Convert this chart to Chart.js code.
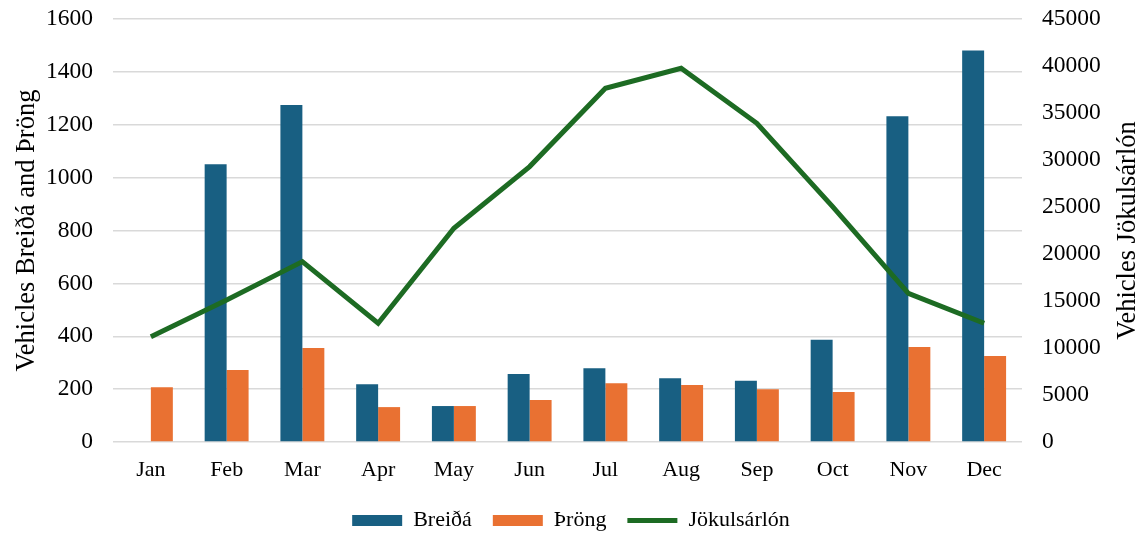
<!DOCTYPE html>
<html>
<head>
<meta charset="utf-8">
<script src="https://cdn.jsdelivr.net/npm/chart.js@4"></script>
<style>
  html, body { margin: 0; padding: 0; background: #fff; }
  #wrap { width: 1142px; height: 535px; position: relative; }
</style>
</head>
<body>
<div id="wrap"><canvas id="c"></canvas></div>
<script>
// Monthly vehicle counts
const months = ['Jan', 'Feb', 'Mar', 'Apr', 'May', 'Jun', 'Jul', 'Aug', 'Sep', 'Oct', 'Nov', 'Dec'];
const breida = [0, 1051, 1275, 218, 136, 257, 279, 241, 232, 387, 1232, 1481];
const throng = [207, 272, 356, 132, 136, 159, 222, 216, 200, 189, 359, 325];
const jokulsarlon = [11200, 15100, 19190, 12630, 22740, 29300, 37630, 39760, 33900, 25040, 15820, 12630];

const leftTicks = [0, 200, 400, 600, 800, 1000, 1200, 1400, 1600];
const rightTicks = [0, 5000, 10000, 15000, 20000, 25000, 30000, 35000, 40000, 45000];

const FONT = '"Liberation Serif", "Times New Roman", serif';
const TEXT = '#000000';
const RIGHT_TITLE = 'Vehicles Jökulsárlón';

// Right-hand axis title, read bottom-to-top like the left one
const rightTitle = {
  id: 'rightTitle',
  afterDraw(chart) {
    const { ctx, chartArea } = chart;
    ctx.save();
    ctx.translate(chart.width - 14, (chartArea.top + chartArea.bottom) / 2);
    ctx.rotate(-Math.PI / 2);
    ctx.font = '26.5px ' + FONT;
    ctx.fillStyle = TEXT;
    ctx.textAlign = 'center';
    ctx.textBaseline = 'middle';
    ctx.fillText(RIGHT_TITLE, 0, 0);
    ctx.restore();
  }
};

const noPad = s => { s.paddingTop = 0; s.paddingBottom = 0; };

new Chart(document.getElementById('c'), {
  data: {
    labels: months,
    datasets: [
      {
        type: 'bar', label: 'Breiðá', data: breida, yAxisID: 'y',
        backgroundColor: '#185F82', borderWidth: 0, order: 1,
        categoryPercentage: 0.58, barPercentage: 1.0
      },
      {
        type: 'bar', label: 'Þröng', data: throng, yAxisID: 'y',
        backgroundColor: '#E97132', borderWidth: 0, order: 1,
        categoryPercentage: 0.58, barPercentage: 1.0
      },
      {
        type: 'line', label: 'Jökulsárlón', data: jokulsarlon, yAxisID: 'y1',
        borderColor: '#1D6B23', backgroundColor: '#1D6B23', borderWidth: 5,
        pointRadius: 0, tension: 0, order: 0, borderJoinStyle: 'miter'
      }
    ]
  },
  plugins: [rightTitle],
  options: {
    responsive: true,
    maintainAspectRatio: false,
    animation: false,
    layout: { padding: { left: 0, right: 0, top: 19, bottom: -6.5 } },
    plugins: {
      tooltip: { enabled: false },
      legend: {
        position: 'bottom',
        labels: {
          font: { family: FONT, size: 22 },
          color: TEXT,
          usePointStyle: true,
          pointStyleWidth: 50,
          boxHeight: 11,
          padding: 21,
          sort: (a, b) => a.datasetIndex - b.datasetIndex,
          generateLabels(chart) {
            const items = Chart.defaults.plugins.legend.labels.generateLabels(chart);
            items.forEach(it => {
              const ds = chart.data.datasets[it.datasetIndex];
              const isLine = ds.type === 'line';
              it.pointStyle = isLine ? 'line' : 'rect';
              it.lineWidth = isLine ? 5 : 0;
              it.fillStyle = isLine ? ds.borderColor : ds.backgroundColor;
              it.strokeStyle = isLine ? ds.borderColor : ds.backgroundColor;
            });
            return items;
          }
        }
      }
    },
    scales: {
      x: {
        grid: { display: false, drawTicks: false },
        border: { display: false },
        ticks: { font: { family: FONT, size: 22 }, color: TEXT, padding: 15, maxRotation: 0 },
        afterFit(s) { s.height = 46.5; }
      },
      y: {
        position: 'left',
        min: 0, max: 1600,
        afterBuildTicks(s) { s.ticks = leftTicks.map(v => ({ value: v })); },
        grid: { color: '#D9D9D9', lineWidth: 1.5, drawTicks: false },
        border: { display: false },
        ticks: { font: { family: FONT, size: 23.5 }, color: TEXT, padding: 20, callback: v => String(v) },
        title: {
          display: true, text: 'Vehicles Breiðá and Þröng',
          font: { family: FONT, size: 26.5 }, color: TEXT, padding: { top: 11, bottom: 0 }
        },
        afterFit(s) { s.width = 113; noPad(s); }
      },
      y1: {
        position: 'right',
        min: 0, max: 45000,
        afterBuildTicks(s) { s.ticks = rightTicks.map(v => ({ value: v })); },
        grid: { display: false, drawTicks: false },
        border: { display: false },
        ticks: { font: { family: FONT, size: 23.5 }, color: TEXT, padding: 20, callback: v => String(v) },
        title: { display: false },
        afterFit(s) { s.width = 120; noPad(s); }
      }
    }
  }
});
</script>
</body>
</html>
